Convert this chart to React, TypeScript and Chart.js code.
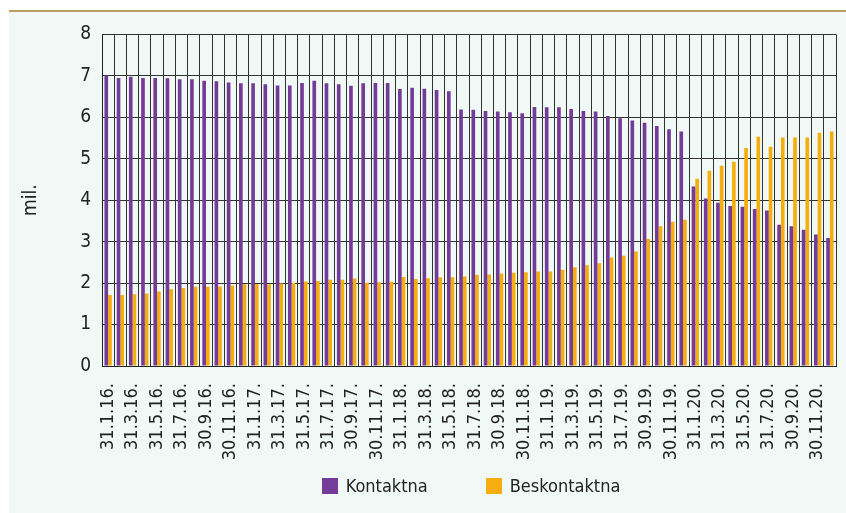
import React, { useEffect, useRef } from 'react';
import { Chart, registerables } from 'chart.js';

Chart.register(...registerables);

const categories = [
  '31.1.16.', '29.2.16.', '31.3.16.', '30.4.16.', '31.5.16.', '30.6.16.', '31.7.16.', '31.8.16.', '30.9.16.', '31.10.16.', '30.11.16.', '31.12.16.',
  '31.1.17.', '28.2.17.', '31.3.17.', '30.4.17.', '31.5.17.', '30.6.17.', '31.7.17.', '31.8.17.', '30.9.17.', '31.10.17.', '30.11.17.', '31.12.17.',
  '31.1.18.', '28.2.18.', '31.3.18.', '30.4.18.', '31.5.18.', '30.6.18.', '31.7.18.', '31.8.18.', '30.9.18.', '31.10.18.', '30.11.18.', '31.12.18.',
  '31.1.19.', '28.2.19.', '31.3.19.', '30.4.19.', '31.5.19.', '30.6.19.', '31.7.19.', '31.8.19.', '30.9.19.', '31.10.19.', '30.11.19.', '31.12.19.',
  '31.1.20.', '29.2.20.', '31.3.20.', '30.4.20.', '31.5.20.', '30.6.20.', '31.7.20.', '31.8.20.', '30.9.20.', '31.10.20.', '30.11.20.', '31.12.20.',
];

const kontaktna = [
  7.01, 6.95, 6.98, 6.95, 6.95, 6.94, 6.92, 6.92, 6.88, 6.87, 6.84, 6.82,
  6.82, 6.80, 6.77, 6.77, 6.83, 6.88, 6.82, 6.80, 6.76, 6.82, 6.83, 6.83,
  6.68, 6.71, 6.69, 6.66, 6.63, 6.19, 6.18, 6.15, 6.14, 6.12, 6.10, 6.25,
  6.24, 6.24, 6.20, 6.15, 6.14, 6.03, 5.98, 5.92, 5.87, 5.79, 5.71, 5.66,
  4.33, 4.04, 3.94, 3.86, 3.84, 3.79, 3.75, 3.41, 3.37, 3.29, 3.17, 3.09,
];

const beskontaktna = [
  1.71, 1.71, 1.73, 1.75, 1.80, 1.85, 1.88, 1.91, 1.91, 1.92, 1.94, 1.97,
  1.98, 1.97, 1.99, 2.01, 2.04, 2.05, 2.08, 2.08, 2.11, 2.01, 2.02, 2.03,
  2.15, 2.10, 2.12, 2.14, 2.14, 2.16, 2.20, 2.21, 2.23, 2.25, 2.26, 2.28,
  2.28, 2.32, 2.38, 2.43, 2.48, 2.62, 2.66, 2.76, 3.07, 3.37, 3.48, 3.53,
  4.52, 4.71, 4.83, 4.93, 5.26, 5.53, 5.29, 5.51, 5.51, 5.51, 5.63, 5.66,
];

const seriesNames = ['Kontaktna', 'Beskontaktna'];
const seriesColors = ['#743C98', '#F6AE0E'];
const yAxisTitle = 'mil.';

const FONT = "'DejaVu Sans Condensed', 'Liberation Sans Narrow', sans-serif";
const FS = 18;

// Legend drawn below the axis labels, centred on the plot area
const bottomLegend = {
  id: 'bottomLegend',
  afterDraw(chart: any) {
    const { ctx, chartArea } = chart;
    const box = 16;
    const textGap = 8;
    const itemGap = 58;
    const y = 466;
    ctx.save();
    ctx.font = `${FS}px ${FONT}`;
    const items = chart.data.datasets.map((d: any) => ({
      label: d.label,
      color: d.backgroundColor,
      w: box + textGap + ctx.measureText(d.label).width,
    }));
    const total = items.reduce((s: number, it: any) => s + it.w, 0) + itemGap * (items.length - 1);
    let x = (chartArea.left + chartArea.right) / 2 + 2 - total / 2;
    ctx.textBaseline = 'middle';
    ctx.textAlign = 'left';
    for (const it of items) {
      ctx.fillStyle = it.color;
      ctx.fillRect(Math.round(x), y, box, box);
      ctx.fillStyle = '#222';
      ctx.fillText(it.label, x + box + textGap, y + box / 2 + 1);
      x += it.w + itemGap;
    }
    ctx.restore();
  },
};

export default function App() {
  const ref = useRef<HTMLCanvasElement>(null);

  useEffect(() => {
    const chart = new Chart(ref.current!, {
      type: 'bar',
      data: {
        labels: categories,
        datasets: [
          {
            label: seriesNames[0],
            data: kontaktna,
            backgroundColor: seriesColors[0],
            borderWidth: 0,
            categoryPercentage: 0.6,
            barPercentage: 1.0,
          },
          {
            label: seriesNames[1],
            data: beskontaktna,
            backgroundColor: seriesColors[1],
            borderWidth: 0,
            categoryPercentage: 0.6,
            barPercentage: 1.0,
          },
        ],
      },
      options: {
        responsive: false,
        animation: false,
        layout: { padding: { top: 21, right: 10, left: 0, bottom: 47 } },
        plugins: {
          tooltip: { enabled: false },
          legend: { display: false },
        },
        scales: {
          x: {
            grid: { color: '#333', lineWidth: 1, drawTicks: false, offset: true },
            border: { color: '#222', width: 1 },
            ticks: {
              autoSkip: false,
              minRotation: 90,
              maxRotation: 90,
              padding: 17,
              color: '#222',
              font: { family: FONT, size: FS },
              callback: (_v: any, i: number) => (i % 2 === 0 ? categories[i] : ''),
            },
            afterFit: (s: any) => {
              s.height = 100;
              s.paddingLeft = 0;
              s.paddingRight = 0;
            },
          },
          y: {
            min: 0,
            max: 8,
            grid: { color: '#333', lineWidth: 1, drawTicks: false },
            border: { color: '#222', width: 1 },
            ticks: {
              stepSize: 1,
              padding: 11,
              color: '#222',
              font: { family: FONT, size: FS + 1 },
            },
            title: {
              display: true,
              text: yAxisTitle,
              color: '#222',
              font: { family: FONT, size: FS + 1 },
              padding: { top: 11, bottom: 0 },
            },
            afterFit: (s: any) => { s.width = 93; },
          },
        },
      },
      plugins: [bottomLegend],
    });
    return () => chart.destroy();
  }, []);

  return (
    <div
      style={{
        position: 'absolute',
        left: 9,
        top: 10,
        width: 837,
        height: 503,
        boxSizing: 'border-box',
        background: '#F0F9F6',
        borderTop: '2px solid #BC9D62',
      }}
    >
      <canvas ref={ref} width={837} height={501} style={{ display: 'block', width: 837, height: 501 }} />
    </div>
  );
}
